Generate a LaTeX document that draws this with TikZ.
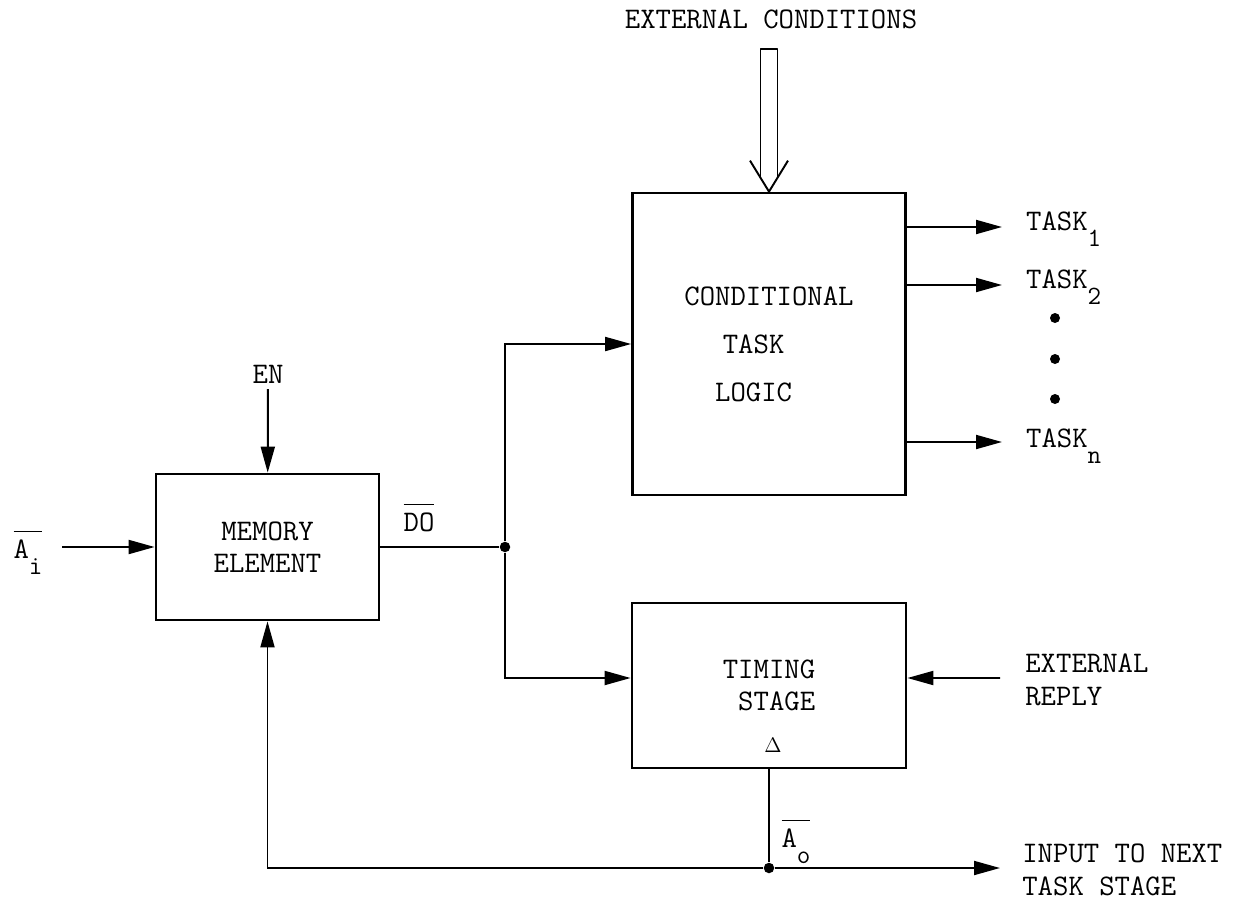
\documentclass[tikz,border=0pt]{standalone}
\usepackage{fontspec}
\usepackage{tikz}
\usetikzlibrary{arrows.meta,calc}

\newcommand{\lowsub}[1]{\raisebox{-9.5pt}{\fontsize{15}{15}\selectfont #1}}
\newcommand{\barlabel}[1]{$\overline{\rule{0pt}{0.82em}\hbox{#1}}$}

\begin{document}
\begin{tikzpicture}[
  x=0.02cm, y=-0.02cm,
  font=\ttfamily\fontsize{17}{18.4}\selectfont,
  block/.style={draw, line width=1.6pt, align=center, inner sep=0pt},
  arrow/.style={-{Triangle[length=0.52cm, width=0.28cm]}, line width=1.1pt},
  wire/.style={line width=1.1pt, line join=round},
  dot/.style={circle, fill, inner sep=0pt, minimum size=0.21cm}
]
\useasboundingbox (0,0) rectangle (1242,900);

\node[block, minimum width=4.46cm, minimum height=2.92cm] (mem) at (267.5,547) {MEMORY\\ELEMENT};
\node[block, minimum width=5.46cm, minimum height=6.04cm] (cond) at (769,344)
  {CONDITIONAL\\[9pt]TASK\phantom{XX}\\[9pt]LOGIC\phantom{XX}};
\node[block, align=right, minimum width=5.48cm, minimum height=3.3cm] (tim) at (769,685.5) {TIMING\\STAGE};
\node[anchor=base, font=\fontsize{12}{12}\selectfont] (delta) at ($(tim.south)+(4,-17)$) {$\Delta$};

\node[anchor=base] (extc) at (771,28) {EXTERNAL CONDITIONS};
\node[anchor=base] (en) at (268,383) {EN};
\node[anchor=base] (ai) at (28,558) {\barlabel{A\lowsub{i}}};
\node[anchor=base] (do) at (419,531) {\barlabel{DO}};
\node[anchor=base] (ao) at (796,847) {\barlabel{A\lowsub{o}}};

\node[anchor=base west] (task1) at (1020,230) {TASK\lowsub{1}};
\node[anchor=base west] (task2) at (1020,288) {TASK\lowsub{2}};
\node[anchor=base west] (taskn) at (1020,447) {TASK\lowsub{n}};
\foreach \k/\y in {a/318, b/359, c/399}
  \node[dot, minimum size=0.2cm] (more\k) at (1055,\y) {};

\node[anchor=west, align=left, inner sep=0pt] (reply) at (1025,680) {EXTERNAL\\REPLY};
\node[anchor=west, align=left, inner sep=0pt] (nextin) at (1022,870) {INPUT TO NEXT\\TASK STAGE};

\coordinate (ain) at (62,547);
\coordinate (rep) at (1000,678);
\coordinate (lowrow) at (0,868);
\coordinate (nxt) at (1000,868);
\coordinate (t1) at (1002,227);
\coordinate (t2) at (1002,285);
\coordinate (tn) at (1002,442);
\node[dot] (split) at (505,547) {};
\node[dot] (jn) at (tim.south |- lowrow) {};

% double arrow from the top
\draw[wire] ($(cond.north)+(-8.5,-14)$) -- ++(0,-129) -- ++(17,0) -- ++(0,129);
\draw[wire] ($(cond.north)+(-19,-31)$) -- (cond.north) -- ++(19,-31);

\draw[arrow] (en) -- (mem);
\draw[arrow] (ain) -- (mem);
\draw[wire] (mem) -- (split);
\draw[arrow] (split) |- (cond.west);
\draw[arrow] (split) |- ([yshift=0.15cm]tim.west);
\draw[arrow] (rep) -- ([yshift=0.15cm]tim.east);
\foreach \t in {t1, t2, tn}
  \draw[arrow] (cond.east |- \t) -- (\t);

\draw[wire] (tim) -- (jn);
\draw[arrow] (jn) -- (nxt);
\draw[arrow] (jn) -| (mem);
\end{tikzpicture}
\end{document}
